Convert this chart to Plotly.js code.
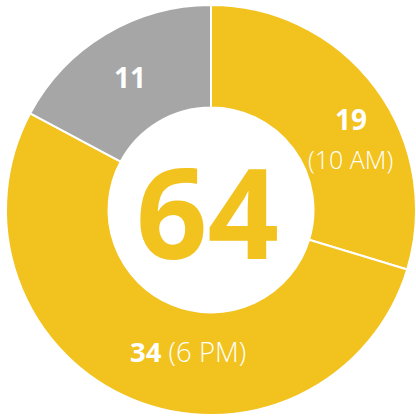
<!DOCTYPE html>
<html>
<head>
<meta charset="utf-8">
<script src="https://cdn.plot.ly/plotly-3.0.1.min.js"></script>
<style>html,body{margin:0;padding:0;background:#fff;}#chart{width:416px;height:417px;}</style>
</head>
<body>
<div id="chart"></div>
<script>
var categories = ["10 AM", "6 PM", "Other"];
var values = [19, 34, 11];
var colors = ["#F2C21E", "#F2C21E", "#A6A6A6"];
var total = values.reduce(function(a, b){ return a + b; }, 0);

var trace = {
  type: "pie",
  labels: categories,
  values: values,
  hole: 0.5,
  sort: false,
  direction: "clockwise",
  rotation: 0,
  textinfo: "none",
  hoverinfo: "label+value",
  marker: { colors: colors, line: { color: "#ffffff", width: 2 } },
  domain: { x: [6/416, 1], y: [2/417, 412/417] },
  showlegend: false
};

var font = "Open Sans, Noto Sans, sans-serif";
var annotations = [
  { x: 351/416, y: 1 - 119/417, text: "<b>" + values[0] + "</b>", font: { family: font, size: 28, color: "#fff" } },
  { x: 350/416, y: 1 - 159/417, text: "(" + categories[0] + ")", font: { family: font, size: 25, color: "#fff", weight: 300 } },
  { x: 188/416, y: 1 - 351/417, text: "<b>" + values[1] + "</b> (" + categories[1] + ")", font: { family: font, size: 27.5, color: "#fff", weight: 300 } },
  { x: 130/416, y: 1 - 77/417, text: "<b>" + values[2] + "</b>", font: { family: font, size: 28, color: "#fff" } },
  { x: 207/416, y: 1 - 211/417, text: "<b>" + total + "</b>", font: { family: font, size: 125, color: "#F2C21E" } }
].map(function(a){
  a.xref = "paper"; a.yref = "paper"; a.showarrow = false;
  a.xanchor = "center"; a.yanchor = "middle";
  return a;
});

Plotly.newPlot("chart", [trace], {
  width: 416, height: 417,
  margin: { l: 0, r: 0, t: 0, b: 0 },
  paper_bgcolor: "#fff",
  annotations: annotations
}, { displayModeBar: false, staticPlot: true });
</script>
</body>
</html>
